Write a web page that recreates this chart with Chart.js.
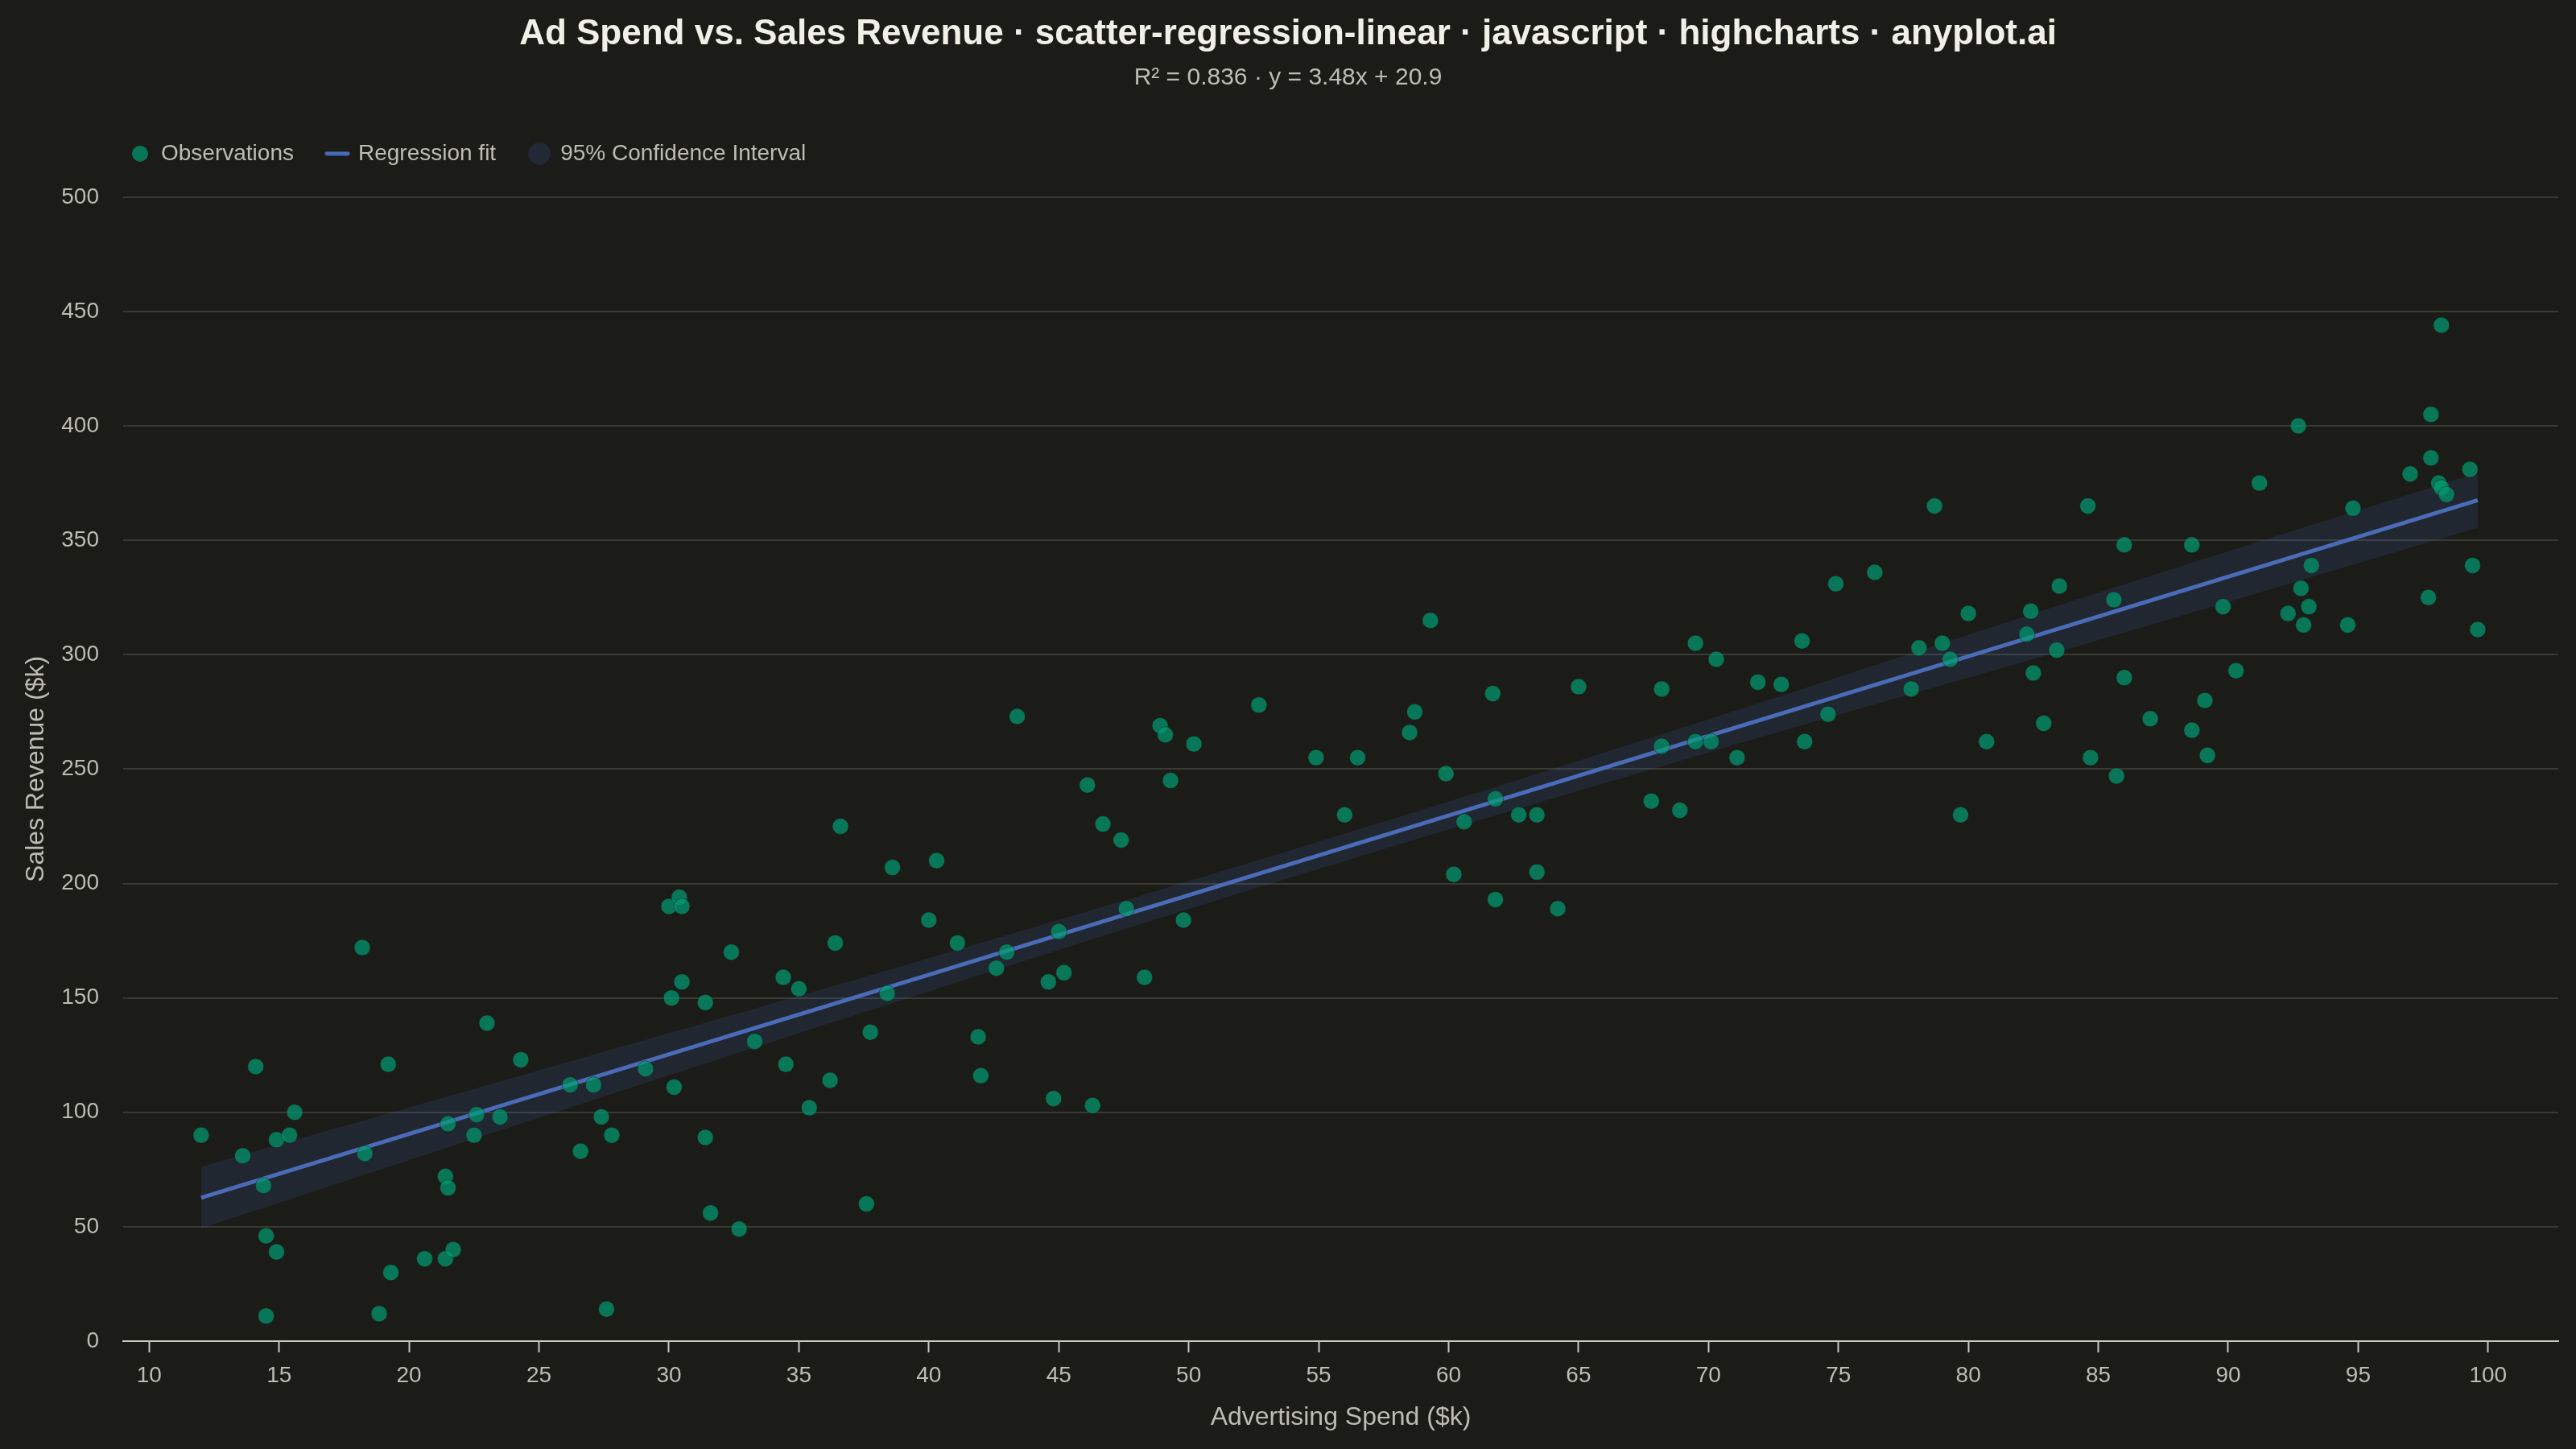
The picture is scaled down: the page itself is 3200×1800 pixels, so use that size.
<!DOCTYPE html>
<html>
<head>
<meta charset="utf-8">
<script src="https://cdn.jsdelivr.net/npm/chart.js@4.4.1/dist/chart.umd.min.js"></script>
<style>
  html, body { margin: 0; padding: 0; background: #1b1b17; }
  #wrap { width: 3200px; height: 1800px; }
</style>
</head>
<body>
<div id="wrap"><canvas id="chart" width="3200" height="1800"></canvas></div>
<script>
// observations
const adSpend = [
  12.0, 13.6, 14.1, 14.4, 14.5, 14.5, 14.9, 14.9, 15.4, 15.6,
  18.2, 18.3, 18.85, 19.2, 19.3, 20.6, 21.4, 21.4, 21.5, 21.5,
  21.7, 22.5, 22.6, 23.0, 23.5, 24.3, 26.2, 26.6, 27.1, 27.4,
  27.6, 27.8, 29.1, 30.0, 30.1, 30.2, 30.4, 30.5, 30.5, 31.4,
  31.4, 31.6, 32.4, 32.7, 33.3, 34.4, 34.5, 35.0, 35.4, 36.2,
  36.4, 36.6, 37.6, 37.75, 38.4, 38.6, 40.0, 40.3, 41.1, 41.9,
  42.0, 42.6, 43.0, 43.4, 44.6, 44.8, 45.0, 45.2, 46.1, 46.3,
  46.7, 47.4, 47.6, 48.3, 48.9, 49.1, 49.3, 49.8, 50.2, 52.7,
  54.9, 56.0, 56.5, 58.5, 58.7, 59.3, 59.9, 60.2, 60.6, 61.7,
  61.8, 61.8, 62.7, 63.4, 63.4, 64.2, 65.0, 67.8, 68.2, 68.2,
  68.9, 69.5, 69.5, 70.1, 70.3, 71.1, 71.9, 72.8, 73.6, 73.7,
  74.6, 74.9, 76.4, 77.8, 78.1, 78.7, 79.0, 79.3, 79.7, 80.0,
  80.7, 82.25, 82.4, 82.5, 82.9, 83.4, 83.5, 84.7, 84.6, 85.6,
  85.7, 86.0, 86.0, 87.0, 88.6, 88.6, 89.1, 89.2, 89.8, 90.3,
  91.2, 92.3, 92.7, 92.8, 92.9, 93.1, 93.2, 94.6, 94.8, 97.0,
  97.7, 97.8, 97.8, 98.1, 98.2, 98.2, 98.4, 99.3, 99.4, 99.6
];
const salesRevenue = [
  90, 81, 120, 68, 46, 11, 39, 88, 90, 100,
  172, 82, 12, 121, 30, 36, 72, 36, 95, 67,
  40, 90, 99, 139, 98, 123, 112, 83, 112, 98,
  14, 90, 119, 190, 150, 111, 194, 190, 157, 148,
  89, 56, 170, 49, 131, 159, 121, 154, 102, 114,
  174, 225, 60, 135, 152, 207, 184, 210, 174, 133,
  116, 163, 170, 273, 157, 106, 179, 161, 243, 103,
  226, 219, 189, 159, 269, 265, 245, 184, 261, 278,
  255, 230, 255, 266, 275, 315, 248, 204, 227, 283,
  237, 193, 230, 230, 205, 189, 286, 236, 285, 260,
  232, 305, 262, 262, 298, 255, 288, 287, 306, 262,
  274, 331, 336, 285, 303, 365, 305, 298, 230, 318,
  262, 309, 319, 292, 270, 302, 330, 255, 365, 324,
  247, 348, 290, 272, 348, 267, 280, 256, 321, 293,
  375, 318, 400, 329, 313, 321, 339, 313, 364, 379,
  325, 405, 386, 375, 444, 373, 370, 381, 339, 311
];

// regression fit and 95% band, read at a few x positions
const bandX = [12, 25, 40, 55, 70, 85, 99.6];
const fitY = [62.7, 108.0, 160.1, 212.3, 264.5, 316.7, 367.5];
const bandLower = [49.2, 97.6, 152.8, 206.3, 257.2, 306.3, 355.5];
const bandUpper = [76.2, 118.4, 167.4, 218.3, 271.8, 327.1, 379.5];

const xTicks = [10, 15, 20, 25, 30, 35, 40, 45, 50, 55, 60, 65, 70, 75, 80, 85, 90, 95, 100];

const font = "'Liberation Sans', Arial, Helvetica, sans-serif";
const textColor = "#bdbcb4";
const pointColor = "rgba(0, 158, 115, 0.7)";
const lineColor = "#4a6cb8";
const bandColor = "rgba(70, 110, 200, 0.145)";

const points = adSpend.map((x, i) => ({ x: x, y: salesRevenue[i] }));
const toXY = (ys) => bandX.map((x, i) => ({ x: x, y: ys[i] }));

// little canvases used as legend symbols
function marker(w, h, paint) {
  const c = document.createElement("canvas");
  c.width = w;
  c.height = h;
  paint(c.getContext("2d"), w, h);
  return c;
}
const dot = (fill, d) =>
  marker(d, d, (g) => {
    g.fillStyle = fill;
    g.beginPath();
    g.arc(d / 2, d / 2, d / 2, 0, Math.PI * 2);
    g.fill();
  });
const obsMark = dot(pointColor, 20);
const ciMark = dot("#222836", 28);
const fitMark = marker(32, 6, (g, w, h) => {
  g.strokeStyle = lineColor;
  g.lineWidth = 5;
  g.lineCap = "round";
  g.beginPath();
  g.moveTo(3, h / 2);
  g.lineTo(w - 3, h / 2);
  g.stroke();
});

// nudge the legend to where the reference has it
const legendPlace = {
  id: "legendPlace",
  beforeInit(chart) {
    const legend = chart.legend;
    if (!legend) return;
    const fit = legend.fit;
    legend.fit = function () {
      fit.call(this);
      this.height += 30;
    };
  },
  afterLayout(chart) {
    const legend = chart.legend;
    const shift = 120 - legend.left;
    legend.left += shift;
    legend.right += shift;
  },
};

const ctx = document.getElementById("chart").getContext("2d");
new Chart(ctx, {
  type: "scatter",
  plugins: [legendPlace],
  data: {
    datasets: [
      {
        label: "Observations",
        data: points,
        backgroundColor: pointColor,
        borderColor: "rgba(27, 27, 23, 0.5)",
        borderWidth: 1,
        pointRadius: 10,
        pointHoverRadius: 10,
      },
      {
        label: "Regression fit",
        type: "line",
        data: toXY(fitY),
        borderColor: lineColor,
        borderWidth: 5,
        pointRadius: 0,
        fill: false,
        tension: 0,
      },
      {
        label: "95% Confidence Interval",
        type: "line",
        data: toXY(bandUpper),
        borderWidth: 0,
        borderColor: "rgba(0,0,0,0)",
        backgroundColor: bandColor,
        pointRadius: 0,
        fill: "+1",
        tension: 0.4,
      },
      {
        label: "ci-lower",
        type: "line",
        data: toXY(bandLower),
        borderWidth: 0,
        borderColor: "rgba(0,0,0,0)",
        pointRadius: 0,
        fill: false,
        tension: 0.4,
      },
    ],
  },
  options: {
    responsive: false,
    devicePixelRatio: 1,
    animation: false,
    layout: { padding: { left: 22, right: 22, top: 10, bottom: 20 } },
    plugins: {
      title: {
        display: true,
        text: "Ad Spend vs. Sales Revenue · scatter-regression-linear · javascript · highcharts · anyplot.ai",
        color: "#f0efe8",
        font: { family: font, size: 44, weight: "bold" },
        padding: { top: 6, bottom: 10 },
      },
      subtitle: {
        display: true,
        text: "R² = 0.836 · y = 3.48x + 20.9",
        color: textColor,
        font: { family: font, size: 30 },
        padding: { bottom: 20 },
      },
      legend: {
        position: "top",
        align: "start",
        labels: {
          color: textColor,
          font: { family: font, size: 28 },
          usePointStyle: true,
          boxWidth: 24,
          boxHeight: 20,
          padding: 42,
          generateLabels: () => [
            { text: "Observations", pointStyle: obsMark, fontColor: textColor, lineWidth: 0, datasetIndex: 0 },
            { text: "Regression fit", pointStyle: fitMark, fontColor: textColor, lineWidth: 0, datasetIndex: 1 },
            { text: "95% Confidence Interval", pointStyle: ciMark, fontColor: textColor, lineWidth: 0, datasetIndex: 2 },
          ],
        },
        onClick: () => {},
      },
      tooltip: { enabled: false },
    },
    scales: {
      x: {
        type: "linear",
        min: 9,
        max: 102.7,
        afterBuildTicks: (axis) => {
          axis.ticks = xTicks.map((v) => ({ value: v }));
        },
        grid: { drawOnChartArea: false, drawTicks: true, tickLength: 14, tickWidth: 2, color: "#c8c7c0" },
        border: { display: true, color: "#c8c7c0", width: 2 },
        ticks: { color: textColor, font: { family: font, size: 28 }, padding: 12 },
        title: {
          display: true,
          text: "Advertising Spend ($k)",
          color: textColor,
          font: { family: font, size: 32 },
          padding: { top: 4, bottom: 0 },
        },
      },
      y: {
        type: "linear",
        min: 0,
        max: 500,
        afterFit: (scale) => {
          scale.width = 131;
        },
        ticks: { stepSize: 50, color: textColor, font: { family: font, size: 28 }, padding: 30 },
        grid: { color: "#3a3a35", lineWidth: 2, drawTicks: false },
        border: { display: false },
        title: {
          display: true,
          text: "Sales Revenue ($k)",
          color: textColor,
          font: { family: font, size: 32 },
          padding: { top: 4, bottom: 0 },
        },
      },
    },
  },
});
</script>
</body>
</html>
